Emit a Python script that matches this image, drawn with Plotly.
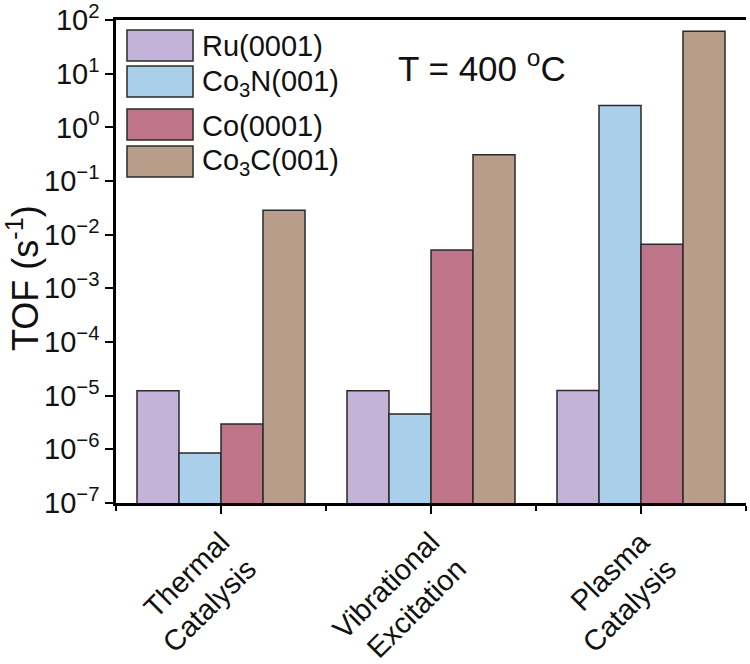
import plotly.graph_objects as go

categories = ["Thermal<br>Catalysis", "Vibrational<br>Excitation", "Plasma<br>Catalysis"]
series_names = ["Ru(0001)", "Co<sub>3</sub>N(001)", "Co(0001)", "Co<sub>3</sub>C(001)"]
ru = [1.23e-5, 1.23e-5, 1.25e-5]
co3n = [8.5e-7, 4.55e-6, 2.55]
co = [2.97e-6, 5.2e-3, 6.6e-3]
co3c = [2.84e-2, 0.31, 62]
colors = ["#C4B3D9", "#A9CFEA", "#BE7489", "#B99D8B"]
ytick_vals = [1e-7, 1e-6, 1e-5, 1e-4, 1e-3, 1e-2, 1e-1, 1e0, 1e1, 1e2]
ytick_text = ["10<sup>\u22127</sup>", "10<sup>\u22126</sup>", "10<sup>\u22125</sup>",
              "10<sup>\u22124</sup>", "10<sup>\u22123</sup>", "10<sup>\u22122</sup>",
              "10<sup>\u22121</sup>", "10<sup>0</sup>", "10<sup>1</sup>", "10<sup>2</sup>"]

FONT = "Liberation Sans, Arial, sans-serif"
W, H = 750, 664
L, R, T, B = 116, 4, 20, 161
PW, PH = W - L - R, H - T - B

xpos = list(range(len(categories)))
fig = go.Figure()
for name, vals, c in zip(series_names, [ru, co3n, co, co3c], colors):
    fig.add_trace(go.Bar(x=xpos, y=vals, name=name, marker_color=c,
                         marker_line_color="#2a2a2a", marker_line_width=1.5,
                         showlegend=False))

def px2x(px):
    return (px - L) / PW
def py2y(py):
    return (T + PH - py) / PH

# custom legend (large swatches like the original)
box_tops = [30, 66, 109, 146]
box_h = 31
for name, c, top in zip(series_names, colors, box_tops):
    fig.add_shape(type="rect", xref="paper", yref="paper",
                  x0=px2x(127), x1=px2x(193), y0=py2y(top + box_h), y1=py2y(top),
                  fillcolor=c, line=dict(color="#2a2a2a", width=1.5))
    fig.add_annotation(xref="paper", yref="paper", x=px2x(200), y=py2y(top + box_h / 2 + 1),
                       text=name, showarrow=False, xanchor="left", yanchor="middle",
                       font=dict(family=FONT, size=29, color="#111"))

fig.add_annotation(xref="paper", yref="paper", x=px2x(396), y=py2y(66),
                   text="T = 400 <sup>o</sup>C", showarrow=False, xanchor="left",
                   yanchor="middle", font=dict(family=FONT, size=35, color="#111"))

# y-axis title
fig.add_annotation(xref="paper", yref="paper", x=px2x(23), y=py2y(278),
                   text="TOF (s<sup>-1</sup>)", showarrow=False, textangle=-90,
                   xanchor="center", yanchor="middle",
                   font=dict(family=FONT, size=36, color="#111"))

fig.update_layout(
    width=W, height=H,
    margin=dict(l=L, r=R, t=T, b=B, autoexpand=False),
    paper_bgcolor="white", plot_bgcolor="white",
    barmode="group", bargap=0.2, bargroupgap=0,
    font=dict(family=FONT, color="#111"),
)
fig.update_xaxes(
    range=[-0.5, 2.5], tickvals=xpos, ticktext=categories, tickangle=-45,
    showline=True, linecolor="black", linewidth=2.5, mirror=True,
    ticks="outside", ticklen=8, tickwidth=2, tickcolor="black",
    minor=dict(tick0=0.5, dtick=1, ticks="outside", ticklen=5, tickwidth=2, tickcolor="black"),
    showgrid=False, zeroline=False, automargin=False,
    tickfont=dict(family=FONT, size=29, color="#111"),
)
fig.update_yaxes(
    type="log", range=[-7.0005, 2.0005], tickvals=ytick_vals, ticktext=ytick_text,
    showline=True, linecolor="black", linewidth=2.5,
    ticks="outside", ticklen=8, tickwidth=2, tickcolor="black",
    showgrid=False, zeroline=False, automargin=False, ticklabeloverflow="allow",
    tickfont=dict(family=FONT, size=29, color="#111"),
)
fig.write_html("out.html")
